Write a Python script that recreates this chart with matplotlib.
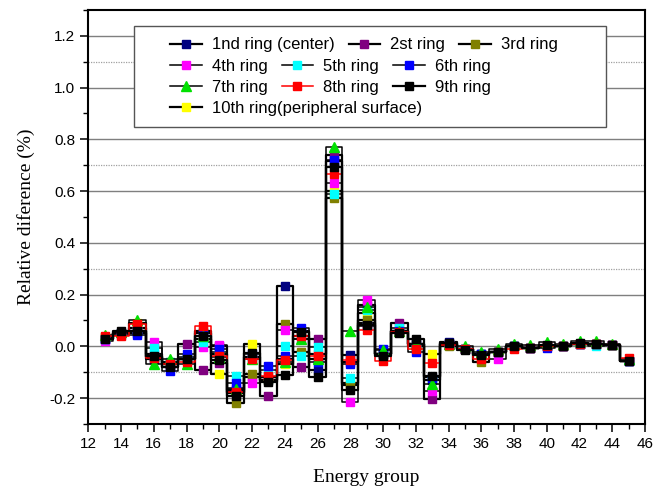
import numpy as np
import matplotlib.pyplot as plt
from matplotlib.patches import Rectangle
from matplotlib.legend import Legend

# energy groups and relative difference (%) for each ring
groups = np.arange(13, 46)

ring1 = [0.03, 0.05, 0.05, -0.04, -0.08, -0.05, 0.05, 0.0, -0.17, -0.04, -0.13, 0.232, 0.06, -0.09, 0.715,
         -0.032, 0.09, -0.03, 0.06, 0.01, -0.12, 0.015, -0.01, -0.03, -0.02, 0.0, -0.005, 0.0, 0.0, 0.01, 0.01, 0.005, -0.055]
ring2 = [0.03, 0.05, 0.06, -0.03, -0.07, 0.01, -0.093, -0.065, -0.18, -0.12, -0.193, -0.05, -0.08, 0.028, 0.74,
         -0.06, 0.16, -0.03, 0.09, 0.01, -0.203, 0.01, -0.01, -0.03, -0.02, 0.0, -0.005, 0.0, 0.0, 0.01, 0.01, 0.005, -0.055]
ring3 = [0.035, 0.05, 0.07, -0.05, -0.06, -0.05, 0.06, -0.03, -0.218, -0.105, -0.13, 0.088, -0.02, -0.05, 0.573,
         -0.15, 0.10, -0.03, 0.06, 0.0, -0.13, 0.0, -0.01, -0.06, -0.02, 0.0, -0.005, 0.0, 0.0, 0.01, 0.01, 0.005, -0.055]
ring4 = [0.02, 0.045, 0.07, 0.015, -0.07, -0.05, -0.002, 0.005, -0.16, -0.143, -0.12, 0.062, 0.03, -0.03, 0.63,
         -0.216, 0.178, -0.03, 0.06, 0.01, -0.174, 0.01, -0.01, -0.03, -0.047, 0.0, -0.005, 0.0, 0.0, 0.01, 0.01, 0.005, -0.055]
ring5 = [0.03, 0.05, 0.06, -0.008, -0.06, -0.04, 0.015, -0.02, -0.115, -0.04, -0.09, 0.0, -0.036, -0.004, 0.59,
         -0.122, 0.14, -0.03, 0.07, 0.01, -0.13, 0.01, -0.01, -0.03, -0.02, 0.0, -0.005, 0.0, 0.0, 0.01, 0.0, 0.005, -0.055]
ring6 = [0.03, 0.05, 0.045, -0.05, -0.095, -0.03, 0.05, -0.01, -0.14, -0.03, -0.075, -0.036, 0.07, -0.06, 0.72,
         -0.07, 0.08, -0.01, 0.06, -0.02, -0.13, 0.01, -0.01, -0.03, -0.02, 0.0, -0.005, -0.008, 0.0, 0.01, 0.01, 0.005, -0.055]
ring7 = [0.045, 0.055, 0.10, -0.07, -0.05, -0.07, 0.04, -0.04, -0.163, -0.05, -0.12, -0.06, 0.028, -0.05, 0.77,
         0.058, 0.152, -0.015, 0.06, 0.01, -0.144, 0.01, 0.0, -0.02, -0.01, 0.01, 0.005, 0.015, 0.01, 0.02, 0.02, 0.01, -0.05]
ring8 = [0.04, 0.04, 0.085, -0.044, -0.07, -0.06, 0.077, -0.038, -0.178, -0.047, -0.113, -0.051, 0.04, -0.036, 0.667,
         -0.051, 0.064, -0.055, 0.055, -0.01, -0.064, 0.005, -0.01, -0.05, -0.02, -0.01, -0.005, 0.0, 0.0, 0.01, 0.01, 0.005, -0.045]
ring9 = [0.03, 0.06, 0.06, -0.036, -0.08, -0.05, 0.04, -0.052, -0.19, -0.026, -0.139, -0.109, 0.054, -0.12, 0.695,
         -0.167, 0.084, -0.036, 0.052, 0.028, -0.116, 0.013, -0.013, -0.032, -0.02, 0.0, -0.005, 0.005, 0.0, 0.013, 0.01, 0.005, -0.055]
ring10 = [0.035, 0.05, 0.09, -0.04, -0.07, -0.05, 0.03, -0.105, -0.175, 0.01, -0.12, -0.07, 0.04, -0.03, 0.60,
          -0.141, 0.13, -0.03, 0.06, 0.01, -0.028, 0.01, -0.01, -0.03, -0.02, 0.0, -0.005, 0.0, 0.0, 0.01, 0.01, 0.005, -0.055]

labels = ["1nd ring (center)", "2st ring", "3rd ring", "4th ring", "5th ring",
          "6th ring", "7th ring", "8th ring", "9th ring", "10th ring(peripheral surface)"]
series = [ring1, ring2, ring3, ring4, ring5, ring6, ring7, ring8, ring9, ring10]
marker_colors = ["#000080", "#800080", "#808000", "#FF00FF", "#00FFFF",
                 "#0000FF", "#00E000", "#FF0000", "#000000", "#FFFF00"]
line_colors = ["black"] * 7 + ["red"] + ["black"] * 2
line_widths = [1.6, 1.6, 1.6, 1.1, 1.1, 1.1, 1.1, 1.1, 1.6, 1.6]
markers = ["s"] * 6 + ["^"] + ["s"] * 3
# stacking: yellow at the bottom, red and black on top
zorders = [2.1, 2.2, 2.3, 2.4, 2.5, 2.6, 2.7, 2.8, 2.9, 2.0]

fig = plt.figure(figsize=(6.66, 4.87), dpi=100)
ax = fig.add_axes([0.1326, 0.1294, 0.8359, 0.8501])

# grid: solid at major ticks, dotted every 0.4 in between
for yv in np.arange(-0.2, 1.21, 0.2):
    ax.axhline(yv, color="#7f7f7f", lw=1.0, zorder=0)
for yv in [-0.1, 0.3, 0.7, 1.1]:
    ax.axhline(yv, color="#a0a0a0", lw=0.9, ls=(0, (1, 1)), zorder=0)

handles = []
for vals, lab, mc, lc, lw, mk, zo in zip(series, labels, marker_colors, line_colors,
                                         line_widths, markers, zorders):
    h, = ax.plot(groups, vals, drawstyle="steps-mid", color=lc, lw=lw,
                 marker=mk, markersize=6.5 if mk == "^" else 5.8,
                 markerfacecolor=mc, markeredgecolor=mc, label=lab, zorder=zo)
    handles.append(h)

ax.set_xlim(12, 46)
ax.set_ylim(-0.3, 1.3)
ax.set_xticks(np.arange(12, 47, 2))
ax.set_xticks(np.arange(13, 46, 2), minor=True)
ax.set_yticks(np.arange(-0.2, 1.21, 0.2))
ax.set_yticks(np.arange(-0.3, 1.31, 0.1), minor=True)
ax.set_yticklabels([f"{v:.1f}" for v in np.arange(-0.2, 1.21, 0.2)])
ax.tick_params(which="major", direction="out", length=6, width=1.1, labelsize=11)
ax.tick_params(which="minor", direction="out", length=3.5, width=1.0)
for lab in ax.get_xticklabels() + ax.get_yticklabels():
    lab.set_fontfamily("Liberation Sans")
for sp in ax.spines.values():
    sp.set_linewidth(1.5)

ax.set_xlabel("Energy group", fontfamily="Liberation Serif", fontsize=14, labelpad=13)
ax.set_ylabel("Relative diference (%)", fontfamily="Liberation Serif", fontsize=14, labelpad=10)

# legend box laid out row by row
W, H = 666, 487
ax.add_patch(Rectangle((134 / W, 1 - 127 / H), (606 - 134) / W, (127 - 26) / H,
                       transform=fig.transFigure, facecolor="white",
                       edgecolor="#555555", lw=1.0, zorder=4))
rows = [[0, 1, 2], [3, 4, 5], [6, 7, 8], [9]]
row_y = [45, 66.5, 87.5, 108]
for idx, yy in zip(rows, row_y):
    leg = Legend(ax, [handles[i] for i in idx], [labels[i] for i in idx], ncol=len(idx),
                 loc="center left", bbox_to_anchor=(170 / W, 1 - yy / H),
                 bbox_transform=fig.transFigure, frameon=False, borderpad=0,
                 borderaxespad=0, handlelength=1.9, handletextpad=0.6,
                 columnspacing=0.85, prop={"family": "Liberation Sans", "size": 12})
    leg.set_zorder(5)
    ax.add_artist(leg)

fig.savefig("out.png", dpi=100)
